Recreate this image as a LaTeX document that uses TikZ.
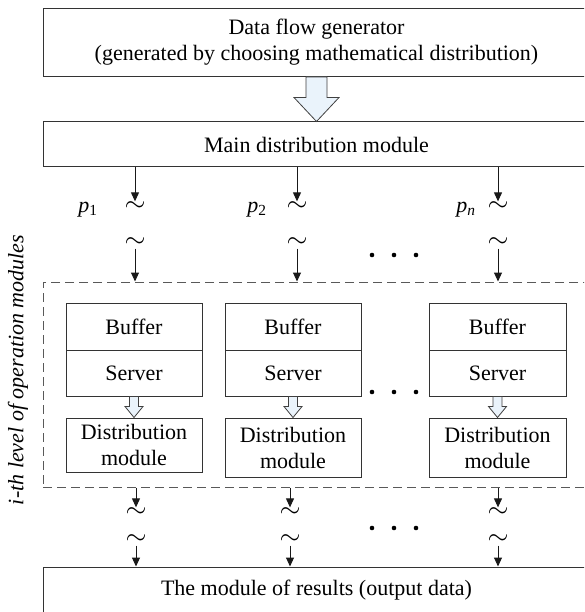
\documentclass[tikz,border=0pt]{standalone}
\usepackage{graphicx}
\usepackage{fontspec}
\setmainfont{Liberation Serif}
\usetikzlibrary{arrows.meta,calc}
\definecolor{arrowfill}{HTML}{EAF3FB}

% break mark on a flow line
\newcommand{\brk}{\scalebox{1.3}{$\sim$}}

% hollow block arrow from #1 down to #2
\newcommand{\hollowarrow}[5]{%
  \filldraw[hollow arrow] let \p1=(#1), \p2=(#2) in
    (\x1-#3pt,\y1) -- (\x1+#3pt,\y1) -- (\x1+#3pt,\y2+#5pt) -- (\x1+#4pt,\y2+#5pt)
    -- (\x1,\y2) -- (\x1-#4pt,\y2+#5pt) -- (\x1-#3pt,\y2+#5pt) -- cycle;}

\begin{document}
\begin{tikzpicture}[x=1pt,y=-1pt]
        \tikzset{
        mod box/.style={draw=black!80,line width=1pt,inner sep=0,align=center,
          font=\fontsize{22}{26}\selectfont},
        lvl box/.style={draw=black!65,line width=1pt,dash pattern=on 9pt off 5pt,inner sep=0},
        wave/.style={inner sep=0.5pt,font=\fontsize{22}{26}\selectfont},
        flow/.style={draw=black!90,line width=1pt,-{Triangle[length=9pt,width=8pt]}},
        hollow arrow/.style={draw=black!75,line width=0.8pt,fill=arrowfill},
        prob/.style={font=\fontsize{22}{26}\selectfont}
        }
        \useasboundingbox (0,0) rectangle (584,612);
        \clip (0,0) rectangle (584,612);

        \node[mod box, minimum width=547pt, minimum height=68pt] (gen) at (316.5,42.5)
          {Data flow generator\\(generated by choosing mathematical distribution)};
        \node[mod box, minimum width=547pt, minimum height=45pt] (main) at (316.5,144.5)
          {Main distribution module};

        % operation modules
        \node[lvl box, minimum width=557pt, minimum height=205pt] (lvl) at (321.5,384.5) {};
        \node[mod box, minimum width=136pt, minimum height=47pt] (buf1) at (134,326.5) {Buffer};
        \node[mod box, minimum width=136pt, minimum height=46pt] (srv1) at (134,373) {Server};
        \node[mod box, minimum width=136pt, minimum height=54pt] (dist1) at (134,445) {Distribution\\module};
        \node[mod box, minimum width=136pt, minimum height=47pt] (buf2) at (293,326.5) {Buffer};
        \node[mod box, minimum width=136pt, minimum height=46pt] (srv2) at (293,373) {Server};
        \node[mod box, minimum width=136pt, minimum height=59pt] (dist2) at (293,447.5) {Distribution\\module};
        \node[mod box, minimum width=137pt, minimum height=47pt] (buf3) at (497.5,326.5) {Buffer};
        \node[mod box, minimum width=137pt, minimum height=46pt] (srv3) at (497.5,373) {Server};
        \node[mod box, minimum width=137pt, minimum height=59pt] (dist3) at (497.5,447.5) {Distribution\\module};

        \node[mod box, minimum width=547pt, minimum height=46pt] (res) at (316.5,590)
          {The module of results (output data)};

        \node[rotate=90, font=\itshape\fontsize{22}{26}\selectfont] (lvltitle) at (18,370)
          {i-th level of operation modules};

        % probabilities and breaks
        \node[prob] (p1) at (88,210) {\textit{p}\textsubscript{1}};
        \node[prob] (p2) at (257,210) {\textit{p}\textsubscript{2}};
        \node[prob] (pn) at (466,210) {\textit{p}\textsubscript{\textit{n}}};
        \node[wave] (t11) at (135,207) {\brk};
        \node[wave] (t12) at (135,243) {\brk};
        \node[wave] (t21) at (297,207) {\brk};
        \node[wave] (t22) at (297,243) {\brk};
        \node[wave] (t31) at (498,207) {\brk};
        \node[wave] (t32) at (498,243) {\brk};
        \node[wave] (b11) at (136,513) {\brk};
        \node[wave] (b12) at (136,540) {\brk};
        \node[wave] (b21) at (290,513) {\brk};
        \node[wave] (b22) at (290,540) {\brk};
        \node[wave] (b31) at (498,513) {\brk};
        \node[wave] (b32) at (498,540) {\brk};

        \foreach \y in {255,392,528}
          \foreach \x in {372,394,416}
            \fill (\x,\y) circle (2.3pt);

        \path[draw,line width=1pt]
        (main.south -| t11) edge[flow] (t11.north)
        (main.south -| t21) edge[flow] (t21.north)
        (main.south -| t31) edge[flow] (t31.north)
        (t12.south) edge[flow] (lvl.north -| t12)
        (t22.south) edge[flow] (lvl.north -| t22)
        (t32.south) edge[flow] (lvl.north -| t32)
        (lvl.south -| b11) edge[flow] (b11.north)
        (lvl.south -| b21) edge[flow] (b21.north)
        (lvl.south -| b31) edge[flow] (b31.north)
        (b12.south) edge[flow] (res.north -| b12)
        (b22.south) edge[flow] (res.north -| b22)
        (b32.south) edge[flow] (res.north -| b32)
        ;

        \hollowarrow{gen.south}{main.north}{10.5}{22.5}{24}
        \hollowarrow{srv1.south}{dist1.north}{4.5}{9}{11}
        \hollowarrow{srv2.south}{dist2.north}{4.5}{9}{11}
        \hollowarrow{srv3.south}{dist3.north}{4.5}{9}{11}
    \end{tikzpicture}
\end{document}
